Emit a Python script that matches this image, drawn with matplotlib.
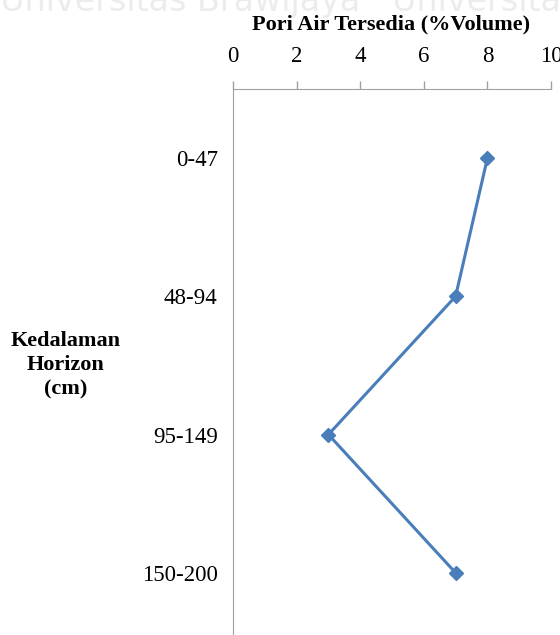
import matplotlib.pyplot as plt

# data
horizon = ['0-47', '48-94', '95-149', '150-200']
pori_air = [8, 7, 3, 7]
x_ticks = [0, 2, 4, 6, 8, 10]

plt.rcParams['font.family'] = ['Liberation Serif', 'DejaVu Serif']

fig = plt.figure(figsize=(5.6, 6.35), dpi=100)
ax = fig.add_axes([233 / 560, 0, 318 / 560, 1 - 89 / 635])

pos = list(range(len(horizon)))
ax.plot(pori_air, pos, color='#4A7EBB', lw=2.2, marker='D', ms=7.5,
        markerfacecolor='#4A7EBB', markeredgecolor='#4A7EBB')

ax.set_xlim(0, 10)
ax.set_ylim(3.45, -0.5)
ax.xaxis.tick_top()
ax.set_xticks(x_ticks)
ax.set_xticklabels([str(t) for t in x_ticks])
ax.set_yticks(pos)
ax.set_yticklabels(horizon)
ax.tick_params(axis='x', length=6, width=1, color='#a0a0a0', pad=10, labelsize=16.5)
ax.tick_params(axis='y', length=0, pad=11, labelsize=16.5)

for s in ['right', 'bottom']:
    ax.spines[s].set_visible(False)
ax.spines['top'].set_color('#a0a0a0')
ax.spines['left'].set_color('#a0a0a0')

# faint watermark, cut at the top edge like the scan
fig.text(0.5, 0.983, 'a   Universitas Brawijaya   Universitas B', ha='center', va='baseline',
         fontsize=24, color='#ececec', family='DejaVu Sans', zorder=-5)

fig.text(0.699, 0.962, 'Pori Air Tersedia (%Volume)', ha='center', va='center',
         fontsize=16, fontweight='bold')
fig.text(0.117, 0.425, 'Kedalaman\nHorizon\n(cm)', ha='center', va='center',
         fontsize=16, fontweight='bold', linespacing=1.3)

fig.savefig('out.png', dpi=100)
